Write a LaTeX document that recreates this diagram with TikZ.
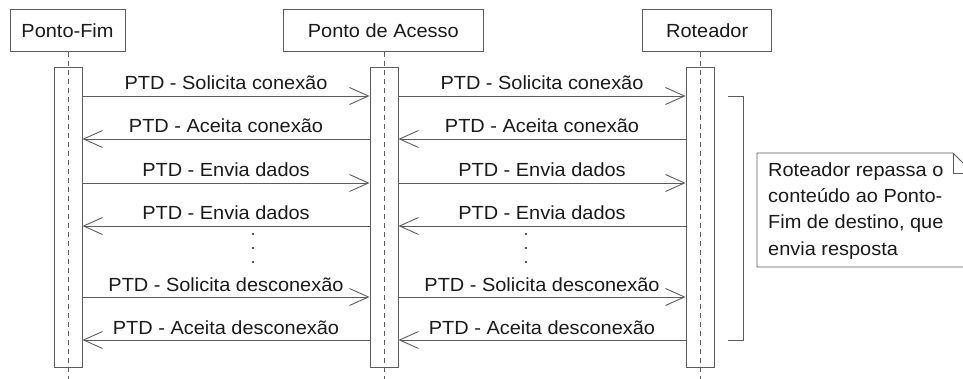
\documentclass[tikz,border=0pt]{standalone}
\usepackage{fontspec}
\setmainfont{Liberation Sans}[FakeStretch=1.05]
\usetikzlibrary{arrows.meta}
\definecolor{ln}{HTML}{5C5C5C}
\definecolor{tx}{HTML}{1A1A1A}
\begin{document}
\begin{tikzpicture}[x=1pt,y=-1pt,
  every node/.style={text=tx,font=\fontsize{19}{26}\selectfont},
  headbox/.style={draw=ln,line width=0.9pt,fill=white,inner sep=0,minimum height=42.5pt},
  actbox/.style={draw=ln,line width=0.9pt,fill=white,inner sep=0,minimum width=28pt,minimum height=300pt},
  life/.style={draw=ln,line width=0.8pt,dash pattern=on 5pt off 4pt},
  msg/.style={draw=ln,line width=0.9pt,-{Straight Barb[length=19pt,width=17pt]}},
  lbl/.style={anchor=base,inner sep=0},
  dotmark/.style={fill=tx,draw=none},
  bracket/.style={draw=ln,line width=0.9pt},
  notebox/.style={draw=ln,line width=0.9pt,fill=white}
]
\useasboundingbox (0,0) rectangle (963,379);
\clip (0,0) rectangle (963,379);
\fill[white] (0,0) rectangle (963,379);

% header boxes
\node[headbox,minimum width=115pt] (hF) at (67.5,30.7) {Ponto-Fim};
\node[headbox,minimum width=200pt] (hA) at (383.3,30.7) {Ponto de Acesso};
\node[headbox,minimum width=129pt] (hR) at (707.2,30.7) {Roteador};

% activation boxes
\node[actbox] (aF) at (68,217) {};
\node[actbox] (aA) at (384,217) {};
\node[actbox] (aR) at (700,217) {};

% lifelines
\coordinate (lFt) at (68,52); \coordinate (lFb) at (68,380);
\coordinate (lAt) at (384,52); \coordinate (lAb) at (384,380);
\coordinate (lRt) at (700,52); \coordinate (lRb) at (700,380);
\draw[life] (lFt) -- (lFb);
\draw[life] (lAt) -- (lAb);
\draw[life] (lRt) -- (lRb);

% message levels
\coordinate (m1) at (0,96);
\coordinate (m2) at (0,139);
\coordinate (m3) at (0,183);
\coordinate (m4) at (0,226);
\coordinate (m5) at (0,297);
\coordinate (m6) at (0,340);

% left messages
\draw[msg] (aF.east |- m1) -- node[lbl,yshift=6pt] {PTD - Solicita conexão} (aA.west |- m1);
\draw[msg] (aA.west |- m2) -- node[lbl,yshift=6pt] {PTD - Aceita conexão} (aF.east |- m2);
\draw[msg] (aF.east |- m3) -- node[lbl,yshift=6pt] {PTD - Envia dados} (aA.west |- m3);
\draw[msg] (aA.west |- m4) -- node[lbl,yshift=6pt] {PTD - Envia dados} (aF.east |- m4);
\draw[msg] (aF.east |- m5) -- node[lbl,yshift=6pt] {PTD - Solicita desconexão} (aA.west |- m5);
\draw[msg] (aA.west |- m6) -- node[lbl,yshift=6pt] {PTD - Aceita desconexão} (aF.east |- m6);

% right messages
\draw[msg] (aA.east |- m1) -- node[lbl,yshift=6pt] {PTD - Solicita conexão} (aR.west |- m1);
\draw[msg] (aR.west |- m2) -- node[lbl,yshift=6pt] {PTD - Aceita conexão} (aA.east |- m2);
\draw[msg] (aA.east |- m3) -- node[lbl,yshift=6pt] {PTD - Envia dados} (aR.west |- m3);
\draw[msg] (aR.west |- m4) -- node[lbl,yshift=6pt] {PTD - Envia dados} (aA.east |- m4);
\draw[msg] (aA.east |- m5) -- node[lbl,yshift=6pt] {PTD - Solicita desconexão} (aR.west |- m5);
\draw[msg] (aR.west |- m6) -- node[lbl,yshift=6pt] {PTD - Aceita desconexão} (aA.east |- m6);

% continuation dots
\foreach \yy in {234,248,262} {
  \fill[dotmark] (253,\yy) circle (1.2pt);
  \fill[dotmark] (526,\yy) circle (1.2pt);
}

% bracket
\coordinate (b1) at (728,96);
\coordinate (b2) at (743,96);
\coordinate (b3) at (743,340);
\coordinate (b4) at (728,340);
\draw[bracket] (b1) -- (b2) -- (b3) -- (b4);

% note
\draw[notebox] (757,153) -- (953,153) -- (973,173) -- (973,267) -- (757,267) -- cycle;
\draw[bracket] (953,153) -- (953,173) -- (973,173);
\node[anchor=base west,inner sep=0] (n1) at (768,177) {Roteador repassa o};
\node[anchor=base west,inner sep=0] (n2) at (768,203) {conteúdo ao Ponto-};
\node[anchor=base west,inner sep=0] (n3) at (768,229) {Fim de destino, que};
\node[anchor=base west,inner sep=0] (n4) at (768,255) {envia resposta};
\end{tikzpicture}
\end{document}
